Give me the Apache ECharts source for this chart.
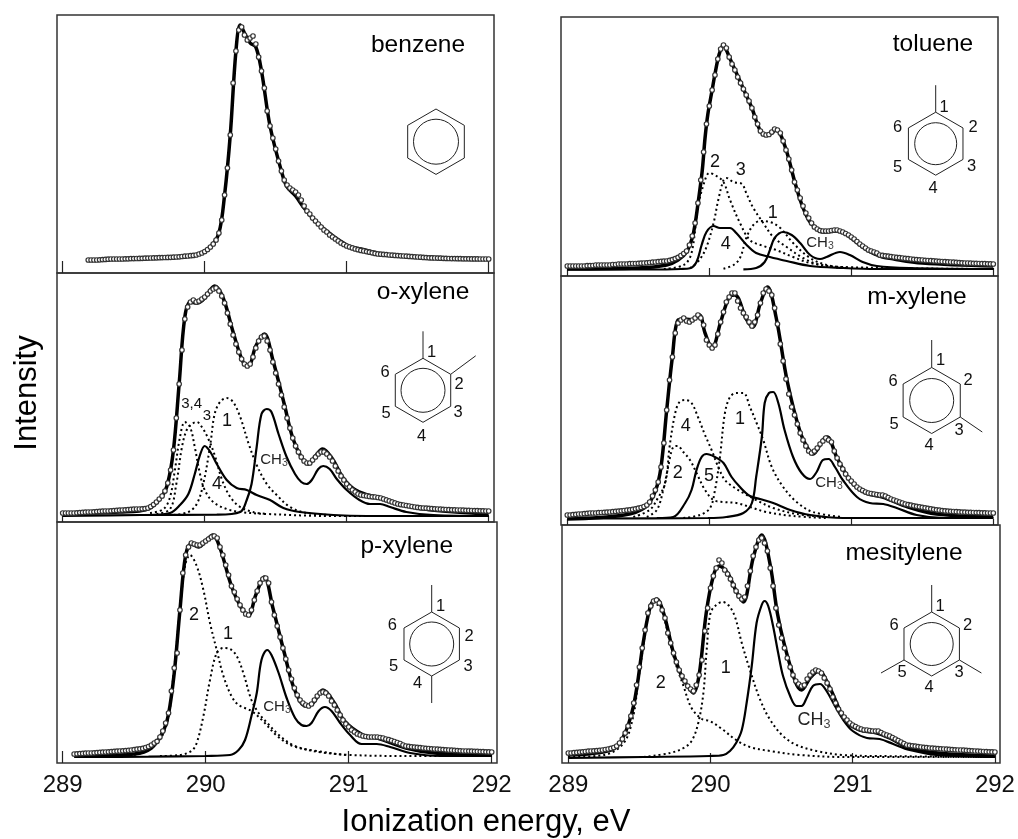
<!DOCTYPE html>
<html><head><meta charset="utf-8">
<style>html,body{margin:0;background:#fff}#c{width:1018px;height:839px}</style>
<script src="https://cdn.jsdelivr.net/npm/echarts@6/dist/echarts.min.js"></script>
</head><body><div id="c"></div>
<script>
const tickEnergies = [289, 290, 291, 292];
const energyGrid = [
289.00,289.02,289.04,289.06,289.08,289.10,289.12,289.14,289.16,289.18,
289.20,289.22,289.24,289.26,289.28,289.30,289.32,289.34,289.36,289.38,
289.40,289.42,289.44,289.46,289.48,289.50,289.52,289.54,289.56,289.58,
289.60,289.62,289.64,289.66,289.68,289.70,289.72,289.74,289.76,289.78,
289.80,289.82,289.84,289.86,289.88,289.90,289.92,289.94,289.96,289.98,
290.00,290.02,290.04,290.06,290.08,290.10,290.12,290.14,290.16,290.18,
290.20,290.22,290.24,290.26,290.28,290.30,290.32,290.34,290.36,290.38,
290.40,290.42,290.44,290.46,290.48,290.50,290.52,290.54,290.56,290.58,
290.60,290.62,290.64,290.66,290.68,290.70,290.72,290.74,290.76,290.78,
290.80,290.82,290.84,290.86,290.88,290.90,290.92,290.94,290.96,290.98,
291.00,291.02,291.04,291.06,291.08,291.10,291.12,291.14,291.16,291.18,
291.20,291.22,291.24,291.26,291.28,291.30,291.32,291.34,291.36,291.38,
291.40,291.42,291.44,291.46,291.48,291.50,291.52,291.54,291.56,291.58,
291.60,291.62,291.64,291.66,291.68,291.70,291.72,291.74,291.76,291.78,
291.80,291.82,291.84,291.86,291.88,291.90,291.92,291.94,291.96,291.98,
292.00];

/* ---------- benzene ---------- */
const benzeneExp = [
null,null,null,null,null,null,null,null,null,13,
13,13,13,13.2,13.4,13.6,13.8,14,14,14,
14,14,14.2,14.2,14.4,14.4,14.5,14.6,14.7,14.8,
14.9,15,15.1,15.2,15.3,15.4,15.5,15.6,15.7,15.8,
16,16.2,16.5,16.8,17,17.3,17.6,18,19,20,
21.5,23.5,26,29,33,40,53,78,105,138,
190,222,243,246,238,233,235,237,229,216,
202,185,162,147,135,124,112,102,93,88,
85,83,81,78,73,67,62,59,55,52,
49,46,43,41,38,36,34,32,30,28.5,
27,26,25,24,23.3,22.6,22,21.4,20.8,20.2,
19.6,19,18.8,18.6,18.4,18,17.8,17.6,17.4,17.2,
17,16.8,16.6,16.4,16.2,16,15.8,15.6,15.4,15.2,
15.1,15,14.9,14.8,14.7,14.6,14.5,14.4,14.4,14.3,
14.3,14.2,14.2,14.2,14.1,14.1,14.1,14,14,14,
14];
const benzeneFit = [[289.18,13],[289.8,16],[289.96,19],[290.04,26],[290.1,40],[290.14,78],[290.18,138],[290.22,222],[290.25,248],[290.28,240],[290.32,230],[290.36,226],[290.4,202],[290.46,147],[290.54,102],[290.58,86],[290.64,77],[290.7,65],[290.8,49],[291,28],[291.1,24],[291.3,18],[292,14]];

/* ---------- toluene ---------- */
const tolueneExp = [
10,10,10,10,10,10,10,10.3,10.3,10.5,
11,11,11,11,11,11,11.5,11.5,12,12,
12,12,12.3,12.5,12.5,12.7,12.8,13,13.2,13.5,
13.8,14,14.3,14.6,14.8,15,15.6,16.4,17.4,18.7,
20.5,22.5,25,31,40,53,73,96,124,152,
170,186,201,217,227,231,228,219,212,206,
199,193,187,181,175,168,159,152,145,142,
141,141.5,144,147,146,143,135,126,117,106,
94,86,78,70,63,58,53,49,47,45.5,
45,45,45,45.5,46,46,45,44,42.5,41,
39,37,34.5,32,30,28,26,25,24,23,
21,20.6,20.2,19.8,19.4,19,18.6,18.3,18,17.6,
17.3,17,16.7,16.4,16.2,16,15.7,15.5,15.3,15.1,
14.9,14.7,14.5,14.3,14.1,14,13.8,13.6,13.4,13.2,
13,13,12.8,12.7,12.6,12.5,12.4,12.3,12.2,12.1,
12];
const tolueneFit = [[289,7],[289.5,8],[289.7,11],[289.78,16],[289.84,24],[289.88,38],[289.9,52],[289.92,72],[289.95,105],[289.97,138],[289.99,162],[290.02,186],[290.04,202],[290.07,222],[290.1,231],[290.12,226],[290.15,216],[290.2,200],[290.25,184],[290.3,168],[290.35,148],[290.39,141],[290.43,142],[290.47,146],[290.5,142],[290.55,122],[290.6,95],[290.65,72],[290.7,56],[290.75,48],[290.8,44],[290.9,45],[290.95,43],[291,38],[291.1,27],[291.2,20],[291.3,17],[291.5,13],[292,10]];
const tolueneC4 = [[289,6.5],[289.6,6.5],[289.8,7],[289.864,7.7],[289.91,14],[289.946,31],[289.98,44],[290.03,50],[290.075,48],[290.146,48],[290.19,43],[290.263,31],[290.33,23],[290.427,19],[290.545,15],[290.71,10],[290.94,8],[291.18,7],[292,7]];
const tolueneCH3 = [[290.24,6.7],[290.33,8],[290.39,14],[290.427,26],[290.46,38],[290.52,44],[290.58,41],[290.64,33],[290.71,21],[290.78,17],[290.826,19],[290.92,24],[290.99,21],[291.08,14],[291.18,10],[291.41,8],[292,7]];
const tolueneC2 = [[289.68,7],[289.82,11],[289.875,23],[289.92,69],[289.97,96],[290,103],[290.05,100],[290.1,94],[290.146,76],[290.216,53],[290.286,36],[290.38,30],[290.47,26],[290.59,19],[290.71,13],[290.94,9],[292,7]];
const tolueneC3 = [[289.864,7.7],[289.93,16],[289.98,29],[290.03,53],[290.063,76],[290.1,96],[290.12,98],[290.17,94],[290.23,92],[290.26,83],[290.31,68],[290.38,53],[290.45,39],[290.545,29],[290.66,18],[290.78,11],[290.94,8]];
const tolueneC1 = [[290.1,7.3],[290.17,11],[290.216,18],[290.263,39],[290.31,51],[290.357,55],[290.427,54],[290.5,48],[290.59,33],[290.71,18],[290.826,11],[290.97,8]];

/* ---------- o-xylene ---------- */
const oXyleneExp = [
9,9,9,9,9,9.2,9.4,9.6,9.8,10,
10,10.2,10.4,10.6,10.8,11,11,11.2,11.4,11.6,
11.8,12,12.2,12.4,12.6,12.8,13,13,13.2,13.4,
14,15.5,17.5,20,23,26,31,39,52,72,
104,138,172,203,215,220,222,220,221,223,
225,228,231,233,234,231,226,219,209,198,
187,178,170,163,158,156,158,165,174,181,
185,186,181,172,160,149,138,127,115,104,
94,84,76,70,65,61,59,59,62,65,
68,70,70,68,65,61,56,51,46,42,
38,35,32,30,28,27,26.5,26,25.5,25.2,
25,24.5,24,23,22,21,20,19,18,17.4,
17,16.5,16,15.5,15,14.6,14.2,14,13.8,13.6,
13.4,13.2,13,12.8,12.6,12.5,12.3,12.2,12.1,12,
12,11.8,11.7,11.6,11.5,11.4,11.3,11.2,11.1,11,
11];
const oXyleneFit = [[289,8],[289.4,10],[289.6,13],[289.7,26],[289.74,39],[289.78,72],[289.82,138],[289.86,205],[289.9,220],[289.95,219],[290,224],[290.07,236],[290.13,224],[290.2,190],[290.27,160],[290.31,157],[290.36,176],[290.42,188],[290.48,162],[290.56,118],[290.62,84],[290.68,65],[290.73,58],[290.78,66],[290.83,73],[290.9,63],[290.97,45],[291.05,33],[291.15,27],[291.25,24],[291.4,17],[291.6,12],[292,8]];
const oXyleneCH3 = [[289,6],[289.55,7],[290.085,7.3],[290.25,10],[290.296,22],[290.33,38],[290.366,75],[290.4,108],[290.437,113],[290.47,110],[290.52,88],[290.577,65],[290.636,48],[290.68,40],[290.718,38],[290.754,42],[290.8,53],[290.835,56],[290.88,53],[290.93,43],[291,32],[291.09,22],[291.164,18],[291.235,18],[291.305,15],[291.42,10],[291.61,7],[292,6]];
const oXyleneC4 = [[289.615,7],[289.756,9],[289.826,17],[289.885,28],[289.93,48],[289.967,67],[290,76],[290.04,70],[290.085,58],[290.155,42],[290.225,34],[290.296,32],[290.366,27],[290.46,22],[290.554,14],[290.67,10],[290.906,7],[291.14,6],[292,6]];
const oXyleneC34 = [[289.615,9],[289.71,13],[289.756,25],[289.79,52],[289.826,85],[289.86,100],[289.897,95],[289.93,75],[289.967,48],[290,32],[290.06,20],[290.155,13],[290.25,10],[290.437,8],[290.906,6],[292,6]];
const oXyleneC3 = [[289.66,8],[289.756,13],[289.8,38],[289.84,75],[289.873,92],[289.91,98],[289.944,100],[289.98,95],[290.026,83],[290.07,67],[290.12,43],[290.18,25],[290.25,15],[290.34,10],[290.437,8]];
const oXyleneC1 = [[289.78,7],[289.885,10],[289.944,18],[289.99,38],[290.04,78],[290.07,108],[290.108,120],[290.155,124],[290.2,120],[290.25,105],[290.31,78],[290.366,57],[290.437,38],[290.507,27],[290.6,15],[290.718,9],[290.906,7]];

/* ---------- m-xylene ---------- */
const mXyleneExp = [
10,10,10.3,10.6,11,11,11.3,11.6,12,12,
12,12.3,12.5,12.7,12.8,13,13.3,13.6,13.9,14.2,
14.5,14.8,15.1,15.6,16.2,16.8,17.5,18.5,20,23,
29,35,43,58,82,115,145,168,192,202,
205,207,204,203,205,207,210,207,200,185,
180,177,180,191,203,213,223,228,232,232,
224,217,212,208,203,199,203,210,222,232,
236,234,230,217,201,181,164,146,131,118,
110,101,92,85,79,74,72,74,77,81,
84,87,85,83,74,67,61,56,51,47,
44,41,38,36,34.5,33,32,31.5,31,30.5,
30,30,29,27.5,26,25,24,23,22,21,
20.4,19.8,19.2,18.7,18.2,17.7,17.2,16.7,16.2,15.7,
15.2,14.8,14.4,14.1,13.9,13.7,13.5,13.3,13.1,12.9,
12.8,12.7,12.6,12.5,12.4,12.3,12.2,12.1,12,12,
12];
const mXyleneFit = [[289,6],[289.4,10],[289.55,18],[289.62,34],[289.66,58],[289.7,115],[289.74,168],[289.78,205],[289.83,206],[289.88,205],[289.93,210],[289.97,192],[290.02,177],[290.08,203],[290.14,228],[290.18,230],[290.26,206],[290.305,198],[290.36,222],[290.41,238],[290.47,208],[290.55,143],[290.64,93],[290.7,75],[290.73,71],[290.8,85],[290.83,88],[290.9,67],[291,43],[291.1,32],[291.22,28],[291.4,18],[291.6,11],[292,8]];
const mXyleneCH3 = [[289,6.5],[289.99,7],[290.12,8],[290.24,12],[290.3,22],[290.33,48],[290.37,88],[290.39,122],[290.42,132],[290.45,133],[290.486,122],[290.53,95],[290.59,68],[290.65,52],[290.71,46],[290.756,53],[290.8,65],[290.84,66],[290.885,58],[290.94,45],[291.04,28],[291.13,22],[291.225,21],[291.32,17],[291.46,10],[291.65,7],[292,7]];
const mXyleneC5 = [[289.63,7],[289.746,8],[289.83,22],[289.875,35],[289.91,55],[289.946,68],[289.98,71],[290.04,68],[290.1,62],[290.157,48],[290.216,38],[290.286,29],[290.357,26],[290.45,22],[290.57,15],[290.71,10],[290.94,7],[292,7]];
const mXyleneC4 = [[289.465,8],[289.58,15],[289.63,25],[289.69,42],[289.72,78],[289.76,112],[289.79,123],[289.83,125],[289.875,122],[289.92,108],[289.97,90],[290.016,75],[290.063,58],[290.11,45],[290.17,38],[290.24,32],[290.33,25],[290.45,17],[290.615,11],[290.826,8]];
const mXyleneC2 = [[289.56,8],[289.63,15],[289.676,35],[289.71,58],[289.746,78],[289.777,79],[289.817,73],[289.864,65],[289.91,52],[289.97,35],[290.03,25],[290.1,23],[290.19,22],[290.286,18],[290.4,13],[290.59,9],[290.826,7]];
const mXyleneC1 = [[289.817,7],[289.934,10],[290.005,17],[290.04,35],[290.075,68],[290.11,112],[290.146,128],[290.19,132],[290.24,132],[290.286,118],[290.333,102],[290.38,85],[290.44,58],[290.52,38],[290.615,23],[290.73,13],[290.94,8]];

/* ---------- p-xylene ---------- */
const pXyleneExp = [
null,null,null,null,9,9.2,9.4,9.6,9.8,10,
10,10.2,10.4,10.6,10.8,11,11.2,11.4,11.6,11.8,
12,12.2,12.4,12.7,13,13.4,13.8,14.2,14.6,15.5,
16.5,18,20,21.7,26,32,40,50,72,95,
110,153,190,208,216,220,219,218,218,220,
222,224,226,227,225,216,208,198,188,177,
171,164,158,153,149,148,153,163,172,180,
184,185,180,161,148,137,126,115,104,93,
84,75,68,63,60,58,57,59,63,67,
70,71,70,67,62,58,53,48,43,39,
36,33,31,29,28,27,26.5,26,26,26,
26,25.5,25,24,23.3,22.5,21.5,20.5,19.5,18,
17,16.6,16.2,15.9,15.6,15.3,15,14.7,14.5,14.2,
14,13.8,13.6,13.4,13.2,13,12.8,12.6,12.4,12.2,
12,12,11.9,11.8,11.7,11.6,11.4,11.3,11.2,11.1,
11];
const pXyleneFit = [[289.1,7],[289.5,9],[289.62,15],[289.7,31],[289.74,49],[289.78,90],[289.82,153],[289.86,208],[289.9,219],[289.95,216],[290,222],[290.05,228],[290.1,215],[290.18,177],[290.25,155],[290.3,148],[290.35,168],[290.41,186],[290.47,155],[290.55,110],[290.62,74],[290.7,57],[290.75,60],[290.82,73],[290.9,60],[290.97,42],[291.1,28],[291.2,25],[291.4,15],[291.6,10],[292,8]];
const pXyleneCH3 = [[289.08,6],[289.6,6.3],[290,7],[290.17,8],[290.23,13],[290.275,23],[290.32,47],[290.357,70],[290.39,103],[290.43,113],[290.46,108],[290.51,90],[290.566,65],[290.625,45],[290.67,38],[290.706,37],[290.74,40],[290.79,52],[290.834,56],[290.88,52],[290.94,40],[291.01,28],[291.09,19],[291.196,19],[291.29,16],[291.43,10],[291.64,7],[292,7]];
const pXyleneC2 = [[289.08,7],[289.49,8],[289.657,20],[289.73,40],[289.774,87],[289.82,153],[289.855,197],[289.89,208],[289.937,197],[289.984,173],[290.03,140],[290.077,113],[290.124,87],[290.18,67],[290.23,58],[290.32,52],[290.4,42],[290.5,27],[290.61,17],[290.776,12],[291.01,8],[291.476,7],[292,7]];
const pXyleneC1 = [[289.68,7],[289.82,8],[289.9,12],[289.937,20],[289.984,47],[290.03,83],[290.077,110],[290.124,115],[290.17,114],[290.217,107],[290.263,90],[290.32,63],[290.37,50],[290.43,40],[290.52,27],[290.61,18],[290.75,12],[290.98,8]];

/* ---------- mesitylene ---------- */
const mesityleneExp = [
10,10,10.3,10.6,10.9,11.2,11.5,11.8,12,12.2,
12.4,12.7,13,13.5,14,14.6,15.5,17,20,24,
30,37,47,60,78,96,115,133,150,157,
162,163,160,153,145,130,120,110,101,93,
87,82,77,74,72,78,88,103,132,155,
175,187,195,203,200,193,189,184,178,172,
167,164,166,177,192,207,216,223,225,220,
212,195,177,155,138,125,115,105,96,88,
82,79,77,78,84,88,91,93,92,90,
85,80,74,66,60,54,50,46,43,40,
38,36.5,35,34,33,33,32.5,32,32,32,
30.5,29,28,27,25.5,24,22.5,21,19.5,18,
17.6,17.2,16.8,16.4,16,15.7,15.4,15,14.8,14.6,
14.4,14.2,14,13.8,13.6,13.4,13.2,13,13,12.8,
12.6,12.4,12.2,12,11.9,11.7,11.5,11.3,11.2,11.1,
11];
const mesityleneFit = [[289,8],[289.3,13],[289.38,24],[289.46,58],[289.53,123],[289.58,158],[289.62,164],[289.67,150],[289.74,110],[289.8,86],[289.86,73],[289.88,70],[289.92,88],[289.97,150],[290.02,187],[290.06,197],[290.12,190],[290.18,172],[290.23,161],[290.3,205],[290.36,228],[290.42,198],[290.47,150],[290.52,118],[290.6,80],[290.64,73],[290.7,85],[290.76,92],[290.84,75],[290.95,42],[291.05,33],[291.17,30],[291.26,25],[291.4,15],[291.6,10],[292,7]];
const mesityleneCH3 = [[289,5],[289.53,6],[289.996,7],[290.09,8],[290.137,12],[290.18,20],[290.22,33],[290.254,60],[290.29,97],[290.324,140],[290.36,158],[290.38,162],[290.406,157],[290.44,137],[290.476,110],[290.51,87],[290.56,67],[290.605,57],[290.64,57],[290.676,65],[290.72,77],[290.77,79],[290.816,72],[290.875,57],[290.934,43],[291,32],[291.1,25],[291.19,24],[291.285,19],[291.4,13],[291.59,8],[292,6]];
const mesityleneC2 = [[289,6],[289.25,8],[289.39,20],[289.457,47],[289.49,80],[289.53,120],[289.56,147],[289.6,158],[289.63,158],[289.67,147],[289.715,120],[289.76,97],[289.81,77],[289.867,55],[289.94,44],[289.996,42],[290.09,33],[290.18,23],[290.277,16],[290.42,12],[290.63,8],[290.93,6],[292,6]];
const mesityleneC1 = [[289.53,6],[289.715,10],[289.81,15],[289.867,22],[289.914,40],[289.95,70],[289.973,113],[290,150],[290.04,158],[290.085,161],[290.125,158],[290.17,147],[290.22,120],[290.277,93],[290.35,63],[290.42,43],[290.51,27],[290.605,18],[290.746,12],[290.93,8],[291.17,7],[292,6]];

/* ---------- page layout (frames, labels, ring drawings) ---------- */
const panels = [
 {name:'benzene', l:57,r:494,t:15,b:273,t0:62.7,k:142,tick:12,nm:[418,45],exp:benzeneExp,fit:benzeneFit,solid:[],dot:[],
  ring:{c:[436,141.7],R:32.7,r:22.5,subs:[],nums:[]},notes:[]},
 {name:'toluene', l:561,r:998,t:17,b:276,t0:567.3,k:142,tick:8,nm:[933,44],exp:tolueneExp,fit:tolueneFit,solid:[tolueneC4,tolueneCH3],dot:[tolueneC2,tolueneC3,tolueneC1],
  ring:{c:[935.7,143.7],R:31.5,r:21,subs:[[0,-27,0]],nums:[[944,107],[973,127],[971.7,166],[933,188],[897.7,167],[897.7,127]]},
  notes:[['2',715,161.7],['3',740.7,170],['1',772.7,213],['4',725.7,244],['CH3',820,243,15]]},
 {name:'o-xylene', l:57,r:494,t:273,b:522,t0:62.7,k:142,tick:6,nm:[423,292],exp:oXyleneExp,fit:oXyleneFit,solid:[oXyleneC4,oXyleneCH3],dot:[oXyleneC34,oXyleneC3,oXyleneC1],
  ring:{c:[423,390.3],R:32,r:22,subs:[[0,-27,0],[25,-18.5,1]],nums:[[431.7,352],[459,384],[458,412.7],[421.7,436],[386,413],[385,372.7]]},
  notes:[['3,4',191.7,404,15],['3',207,415.7,15],['1',227,421],['4',217,484],['CH3',274,460,15]]},
 {name:'m-xylene', l:561,r:998,t:276,b:525,t0:567.3,k:142,tick:6,nm:[917,297],exp:mXyleneExp,fit:mXyleneFit,solid:[mXyleneC5,mXyleneCH3],dot:[mXyleneC4,mXyleneC2,mXyleneC1],
  ring:{c:[931.7,400.5],R:33,r:22,subs:[[0,-27.5,0],[22,15,2]],nums:[[940.7,360.7],[968,380],[959,430.7],[929,445.7],[894,424],[893,381.7]]},
  notes:[['4',685.7,426],['1',740,419],['2',677.7,473],['5',709,476],['CH3',829,483,15]]},
 {name:'p-xylene', l:57,r:497,t:522,b:763,t0:62.7,k:143,tick:12,nm:[406.7,546],exp:pXyleneExp,fit:pXyleneFit,solid:[pXyleneCH3],dot:[pXyleneC2,pXyleneC1],
  ring:{c:[431.7,644],R:32,r:22,subs:[[0,-27,0],[0,27,3]],nums:[[440.7,606],[469,636.7],[468,666],[417.7,683],[393.7,666.7],[392.3,625.7]]},
  notes:[['2',194,615],['1',228,634],['CH3',277,707,15]]},
 {name:'mesitylene', l:562,r:1000,t:525,b:763,t0:568.3,k:142.2,tick:10,nm:[904,553],exp:mesityleneExp,fit:mesityleneFit,solid:[mesityleneCH3],dot:[mesityleneC2,mesityleneC1],
  ring:{c:[931.7,644],R:32,r:21.5,subs:[[0,-27,0],[22,13,2],[-23,13,4]],nums:[[940,606.7],[967.7,625],[959,672],[929,687.7],[902,672],[894,625.7]]},
  notes:[['2',660.7,682.7],['1',725.7,668],['CH3',814,720,18]]}
];
const FONT = '"Liberation Sans", Arial, sans-serif';
const grids=[],xAxes=[],yAxes=[],series=[],graphics=[];
const txt=(t,x,y,size,fill)=>({type:'text',z:50,silent:true,style:{
  x,y,text:t==='CH3'?'{a|CH}{b|3}':t,font:size+'px '+FONT,fontFamily:'Liberation Sans',fontSize:size,fill:fill||'#111',align:'center',verticalAlign:'middle',
  rich:t==='CH3'?{a:{fontSize:size,fontFamily:'Liberation Sans',fill:'#222'},b:{fontSize:size*0.7,fontFamily:'Liberation Sans',fill:'#444',padding:[size*0.45,0,0,0]}}:undefined}});
const SMOOTH=0.35;
panels.forEach((p,i)=>{
  const isBottom=i>=4;
  grids.push({left:p.l,width:p.r-p.l,top:p.t,height:p.b-p.t,show:true,borderColor:'#333',borderWidth:1.5,backgroundColor:'transparent',containLabel:false});
  xAxes.push({type:'value',gridIndex:i,min:289-(p.t0-p.l)/p.k,max:289+(p.r-p.t0)/p.k,splitLine:{show:false},axisLine:{show:false},
    axisTick:{show:true,inside:true,length:p.tick,customValues:tickEnergies,lineStyle:{color:'#222',width:1.2}},
    axisLabel:{show:isBottom,customValues:tickEnergies,fontSize:24,margin:10,color:'#111',fontFamily:'Liberation Sans',formatter:v=>String(v)}});
  yAxes.push({type:'value',gridIndex:i,min:0,max:p.b-p.t,show:false,splitLine:{show:false}});
  const base={xAxisIndex:i,yAxisIndex:i,silent:true,animation:false};
  p.dot.forEach(d=>series.push({...base,type:'line',data:d,symbol:'none',smooth:SMOOTH,z:2,lineStyle:{color:'#000',width:2,type:[2,3]}}));
  p.solid.forEach(d=>series.push({...base,type:'line',data:d,symbol:'none',smooth:SMOOTH,z:3,lineStyle:{color:'#000',width:2.2}}));
  series.push({...base,type:'line',data:p.fit,symbol:'none',smooth:SMOOTH,z:4,lineStyle:{color:'#000',width:3.5}});
  const pts=p.exp.map((v,j)=>v===null?null:[energyGrid[j],v]).filter(Boolean);
  series.push({...base,type:'scatter',data:pts,symbol:'circle',symbolSize:4.5,z:5,itemStyle:{color:'#fff',borderColor:'#333',borderWidth:1.2,opacity:1}});
  graphics.push(txt(p.name,p.nm[0],p.nm[1],24.5,'#000'));
  p.notes.forEach(n=>graphics.push(txt(n[0],n[1],n[2],n[3]||18,'#111')));
  p.ring.nums.forEach((n,j)=>graphics.push(txt(String(j+1),n[0],n[1],16.5,'#111')));
  const [cx,cy]=p.ring.c,R=p.ring.R;
  const verts=[0,1,2,3,4,5].map(j=>{const a=(-90+60*j)*Math.PI/180;return [cx+R*Math.cos(a),cy+R*Math.sin(a)];});
  const st={stroke:'#222',lineWidth:1,fill:'none'};
  graphics.push({type:'polygon',z:50,silent:true,shape:{points:verts},style:{...st}});
  graphics.push({type:'circle',z:50,silent:true,shape:{cx,cy,r:p.ring.r},style:{...st}});
  p.ring.subs.forEach(s=>{const v=verts[s[2]];graphics.push({type:'line',z:50,silent:true,shape:{x1:v[0],y1:v[1],x2:v[0]+s[0],y2:v[1]+s[1]},style:{stroke:'#222',lineWidth:1}});});
});
graphics.push(txt('Ionization energy, eV',486,822,31,'#000'));
graphics.push({type:'text',z:50,silent:true,x:27,y:393,rotation:Math.PI/2,style:{x:0,y:0,text:'Intensity',fontFamily:'Liberation Sans',fontSize:31,fill:'#000',align:'center',verticalAlign:'middle'}});
const chart=echarts.init(document.getElementById('c'),null,{renderer:'canvas'});
chart.setOption({animation:false,backgroundColor:'#fff',textStyle:{fontFamily:'Liberation Sans'},grid:grids,xAxis:xAxes,yAxis:yAxes,series,graphic:{elements:graphics}});
</script></body></html>
